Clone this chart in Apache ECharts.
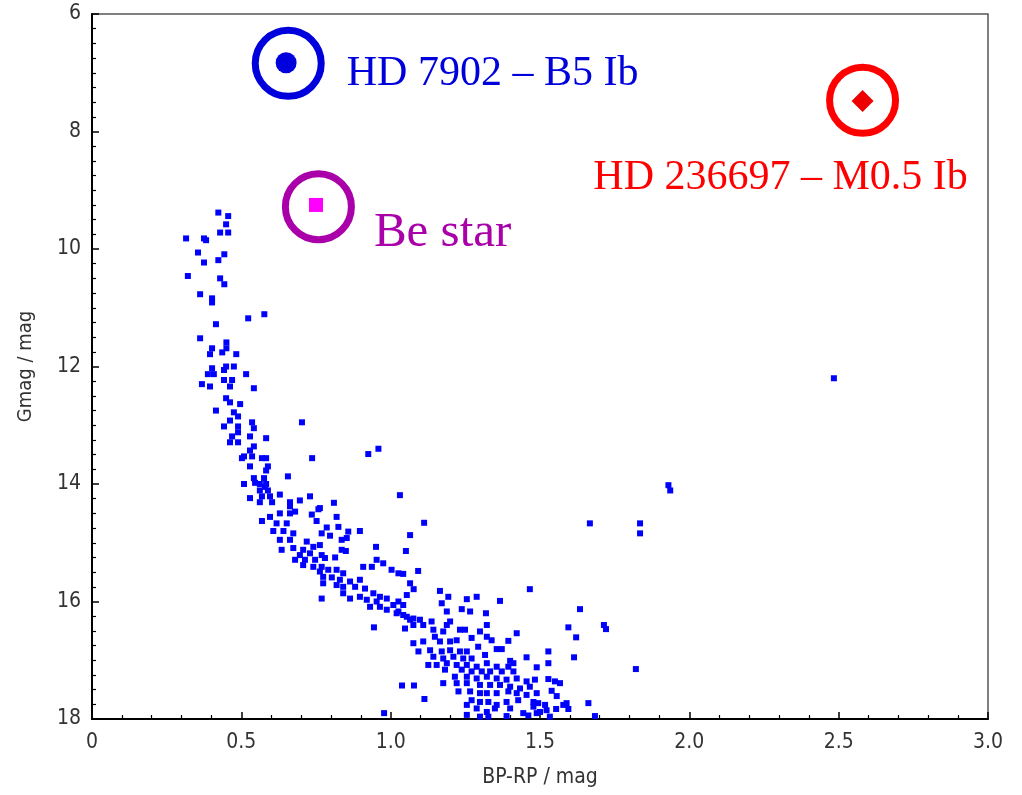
<!DOCTYPE html>
<html>
<head>
<meta charset="utf-8">
<script src="https://cdn.jsdelivr.net/npm/echarts@6/dist/echarts.min.js"></script>
<style>html,body{margin:0;padding:0;background:#fff;}#c{width:1022px;height:795px;}</style>
</head>
<body>
<div id="c"></div>
<script>
// Cluster members: BP-RP colour and G magnitude
const clusterBpRp = [
0.423,0.456,0.449,0.429,0.456,0.315,0.375,0.382,0.355,0.443,0.375,0.423,0.321,0.429,0.443,0.362,0.402,0.402,0.523,0.577,0.415,0.362,0.402,0.450,0.450,0.395,0.436,0.483,
0.402,0.449,0.475,0.388,0.408,0.442,0.516,0.368,0.395,0.442,0.469,0.462,0.542,0.449,0.462,0.496,0.415,0.475,0.489,0.462,0.536,0.442,0.489,0.542,0.703,0.489,0.469,0.529,0.583,0.462,0.489,0.542,0.529,0.509,0.502,0.536,0.569,0.583,0.737,0.529,0.589,0.583,0.656,0.542,0.576,0.509,0.562,0.583,0.562,0.589,0.529,0.569,0.596,0.629,0.730,0.562,0.603,0.663,0.696,0.663,0.763,
0.925,0.959,1.031,1.112,1.065,0.951,1.051,1.165,1.092,1.065,1.077,
0.546,0.579,0.810,
0.569,0.596,0.629,0.663,0.680,0.618,0.652,0.607,0.641,0.674,0.736,0.758,0.752,0.819,0.825,0.786,0.769,0.797,0.858,0.897,0.853,0.836,0.629,0.663,0.635,0.674,0.719,0.741,0.763,0.707,0.696,0.730,0.769,0.680,0.713,0.747,0.780,0.814,0.836,0.850,0.707,0.741,0.769,0.763,0.791,0.819,0.841,0.774,0.803,0.830,0.864,0.897,0.774,0.819,0.841,0.881,0.914,0.908,0.937,0.953,0.975,1.003,1.026,1.042,1.054,0.769,0.841,0.864,0.897,0.920,0.942,0.953,0.964,0.987,0.931,0.964,0.987,1.009,1.042,1.020,1.054,1.076,
1.193,1.171,1.255,1.288,1.266,1.238,1.188,1.366,1.319,1.466,1.026,1.026,1.042,1.065,1.098,1.137,1.199,1.188,1.048,1.076,1.109,1.143,1.176,1.232,1.249,1.299,1.322,1.322,1.338,1.422,1.394,1.271,1.076,1.109,1.148,1.165,1.199,1.221,1.293,1.355,1.372,1.093,1.132,1.171,1.199,1.232,1.255,1.143,1.176,1.210,1.243,1.271,1.316,1.455,1.400,1.411,1.126,1.154,1.188,1.221,1.255,1.288,1.322,1.355,1.394,1.489,1.182,1.238,1.271,1.305,1.333,1.372,1.411,1.215,1.255,1.288,1.322,1.355,1.388,1.422,1.455,1.483,1.038,1.078,1.176,1.221,1.255,1.299,1.333,1.366,1.400,1.433,1.466,1.227,1.266,1.299,1.322,1.355,1.394,1.422,1.455,1.489,1.113,1.271,1.299,1.327,1.355,1.388,1.427,1.478,1.255,1.288,1.322,1.349,1.400,1.444,1.489,0.978,1.255,1.299,1.327,1.388,1.461,
1.634,1.595,1.714,1.721,1.621,1.528,1.614,1.528,1.821,1.528,1.550,1.567,1.539,1.556,1.494,1.517,1.478,1.578,1.589,1.595,1.662,1.554,1.522,1.500,1.533,1.684,
1.930,1.936,1.667,1.835,1.835,2.484,0.944
];
const clusterGmag = [
9.38,9.44,9.58,9.72,9.72,9.82,9.82,9.85,10.06,10.09,10.23,10.19,10.46,10.50,10.60,10.77,10.84,10.91,11.18,11.11,11.28,11.52,11.69,11.59,11.69,11.79,11.76,11.79,
12.03,12.00,12.00,12.13,12.13,12.06,12.13,12.30,12.34,12.23,12.23,12.34,12.37,12.54,12.61,12.64,12.75,12.78,12.85,12.92,12.95,13.02,13.02,13.05,12.95,13.12,13.19,13.19,13.22,13.29,13.29,13.36,13.43,13.53,13.56,13.53,13.56,13.56,13.56,13.70,13.70,13.77,13.87,13.90,13.90,14.00,14.00,14.00,14.11,14.11,14.24,14.21,14.21,14.18,14.21,14.31,14.31,14.31,14.28,14.38,14.41,
13.49,13.40,14.19,14.66,14.87,15.07,15.14,15.82,15.48,15.69,15.79,
13.98,14.05,14.32,
14.63,14.56,14.50,14.50,14.47,14.67,14.67,14.80,14.80,14.84,14.52,14.43,14.63,14.56,14.73,14.74,14.84,14.88,14.81,14.80,14.92,14.95,14.95,14.95,15.12,15.09,14.98,15.07,15.04,15.12,15.21,15.18,15.21,15.29,15.29,15.29,15.26,15.25,15.12,15.14,15.38,15.41,15.41,15.49,15.46,15.46,15.52,15.58,15.59,15.63,15.66,15.63,15.69,15.72,15.75,15.75,15.78,15.41,15.41,15.29,15.35,15.46,15.52,15.53,15.89,15.95,15.86,15.95,15.92,15.97,15.86,16.00,15.92,15.95,16.09,16.09,16.14,16.06,16.06,16.20,16.26,16.29,
15.92,16.03,15.96,15.92,16.17,16.13,16.17,15.99,16.20,15.79,16.00,16.17,16.23,16.31,16.31,16.34,16.34,16.40,16.46,16.40,16.40,16.48,16.51,16.48,16.48,16.51,16.40,16.60,16.66,16.54,16.67,16.62,16.71,16.68,16.60,16.68,16.68,16.66,16.77,16.81,16.81,16.85,16.83,16.85,16.83,16.85,16.85,16.94,16.97,16.94,16.97,16.97,16.91,16.95,17.01,17.05,17.08,17.08,17.05,17.08,17.08,17.11,17.05,17.11,17.11,17.12,17.16,17.16,17.19,17.19,17.19,17.19,17.19,17.28,17.28,17.31,17.28,17.31,17.33,17.31,17.36,17.33,17.43,17.43,17.39,17.39,17.39,17.42,17.42,17.42,17.45,17.48,17.45,17.53,17.53,17.56,17.56,17.56,17.53,17.56,17.59,17.56,17.66,17.68,17.71,17.71,17.76,17.71,17.68,17.71,17.76,17.82,17.88,17.82,17.82,17.90,17.90,17.90,17.93,17.96,17.96,17.95,17.94,
16.13,16.44,16.40,16.47,16.61,16.85,16.95,17.05,17.15,17.32,17.36,17.39,17.52,17.61,17.73,17.76,17.79,17.76,17.73,17.83,17.73,17.83,17.85,17.88,17.96,17.95,
14.02,14.11,14.67,14.67,14.84,12.20,16.44
];

// Highlighted stars
const supergiantB = { name: 'HD 7902 – B5 Ib', bpRp: 0.650, gmag: 6.83, ringBpRp: 0.657, ringGmag: 6.84 };
const beStar = { name: 'Be star', bpRp: 0.750, gmag: 9.25, ringBpRp: 0.758, ringGmag: 9.28 };
const supergiantM = { name: 'HD 236697 – M0.5 Ib', bpRp: 2.580, gmag: 7.48, ringBpRp: 2.580, ringGmag: 7.47 };

const xTickLabels = ['0', '0.5', '1.0', '1.5', '2.0', '2.5', '3.0'];
const yTickLabels = ['6', '8', '10', '12', '14', '16', '18'];

const clusterData = clusterBpRp.map((v, i) => [v, clusterGmag[i]]);

const tickFont = "'DejaVu Sans Condensed','DejaVu Sans',sans-serif";
const serifFont = "'Liberation Serif','DejaVu Serif',serif";

const chart = echarts.init(document.getElementById('c'), null, { renderer: 'canvas' });

function ring(star, color, label) {
  return {
    type: 'scatter', symbol: 'circle', symbolSize: 66, silent: true, z: 3,
    itemStyle: { color: 'rgba(0,0,0,0)', borderColor: color, borderWidth: 7, opacity: 1 },
    label: Object.assign({ show: true, formatter: star.name, color: color, fontFamily: serifFont }, label),
    data: [[star.ringBpRp, star.ringGmag]]
  };
}

chart.setOption({
  animation: false,
  backgroundColor: '#fff',
  grid: { left: 92, right: 34, top: 14, bottom: 76, show: true, borderColor: '#555', borderWidth: 1.5 },
  xAxis: {
    type: 'value', min: 0, max: 3, interval: 0.5,
    name: 'BP-RP / mag', nameLocation: 'middle', nameGap: 48,
    nameTextStyle: { color: '#333', fontSize: 21, fontFamily: tickFont },
    axisLine: { show: true, onZero: false, lineStyle: { color: '#000', width: 2 } },
    axisTick: { show: true, inside: true, length: 7, lineStyle: { color: '#000', width: 1.5 } },
    minorTick: { show: true, splitNumber: 5, length: 4, lineStyle: { color: '#000', width: 1.2 } },
    splitLine: { show: false },
    axisLabel: { color: '#333', fontSize: 21, fontFamily: tickFont, margin: 13,
      formatter: (v) => xTickLabels[Math.round(v / 0.5)] }
  },
  yAxis: {
    type: 'value', inverse: true, min: 6, max: 18, interval: 2,
    name: 'Gmag / mag', nameLocation: 'middle', nameGap: 56, nameRotate: 90,
    nameTextStyle: { color: '#333', fontSize: 20, fontFamily: tickFont },
    axisLine: { show: true, onZero: false, lineStyle: { color: '#000', width: 2 } },
    axisTick: { show: true, inside: true, length: 7, lineStyle: { color: '#000', width: 1.5 } },
    minorTick: { show: true, splitNumber: 8, length: 4, lineStyle: { color: '#000', width: 1.2 } },
    splitLine: { show: false },
    axisLabel: { color: '#333', fontSize: 21, fontFamily: tickFont, margin: 11,
      formatter: (v) => yTickLabels[Math.round((v - 6) / 2)] }
  },
  series: [
    { type: 'scatter', symbol: 'rect', symbolSize: 6, silent: true, z: 2,
      itemStyle: { color: '#0000ff', opacity: 1 }, data: clusterData },
    ring(supergiantB, '#0000dd', { position: 'right', distance: 22, offset: [0, 11], fontSize: 42 }),
    ring(beStar, '#aa00aa', { position: 'right', distance: 19, offset: [0, 26], fontSize: 49 }),
    ring(supergiantM, '#ff0000', { position: 'bottom', distance: 20, offset: [-82, 0], fontSize: 42 }),
    { type: 'scatter', symbol: 'circle', symbolSize: 21, silent: true, z: 4,
      itemStyle: { color: '#0000dd', opacity: 1 }, data: [[supergiantB.bpRp, supergiantB.gmag]] },
    { type: 'scatter', symbol: 'rect', symbolSize: 14, silent: true, z: 4,
      itemStyle: { color: '#ff00ff', opacity: 1 }, data: [[beStar.bpRp, beStar.gmag]] },
    { type: 'scatter', symbol: 'diamond', symbolSize: 22, silent: true, z: 4,
      itemStyle: { color: '#ee0000', opacity: 1 }, data: [[supergiantM.bpRp, supergiantM.gmag]] }
  ]
});
</script>
</body>
</html>
